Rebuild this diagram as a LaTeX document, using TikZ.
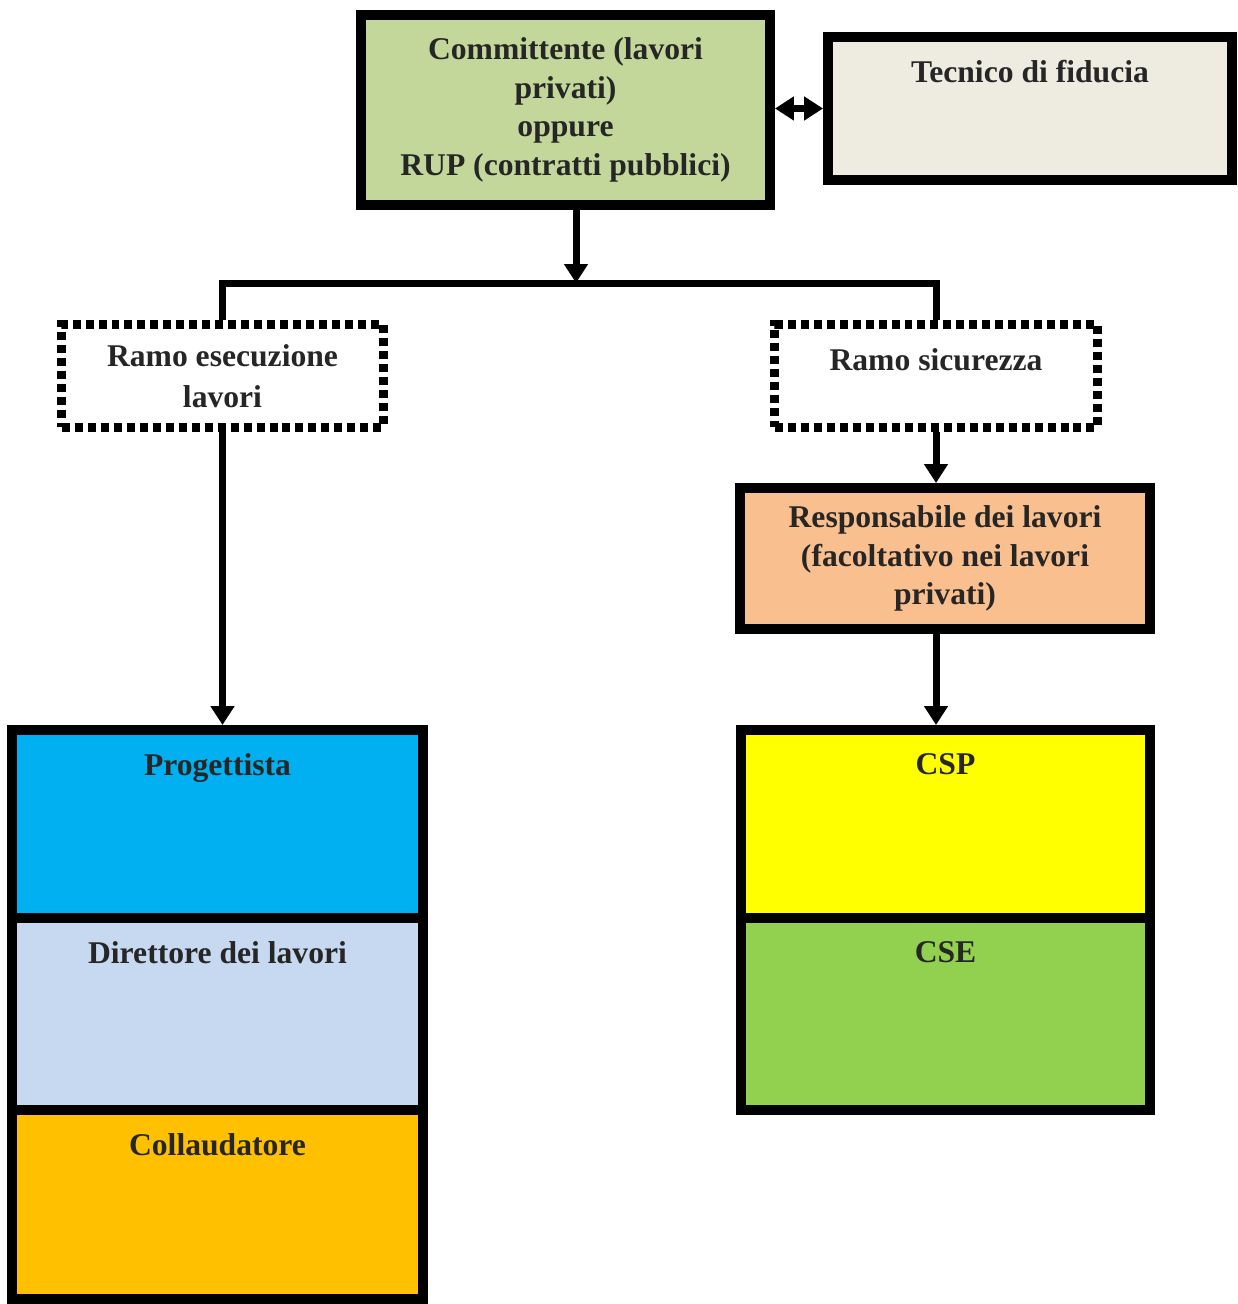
\documentclass[tikz,border=0pt]{standalone}
\usepackage{fontspec}
\setmainfont{Liberation Serif}
\usetikzlibrary{arrows.meta}
\definecolor{committente}{RGB}{196,215,155}
\definecolor{fiducia}{RGB}{238,236,225}
\definecolor{responsabile}{RGB}{250,191,143}
\definecolor{progettista}{RGB}{0,176,240}
\definecolor{direttore}{RGB}{198,217,241}
\definecolor{collaudatore}{RGB}{255,192,0}
\definecolor{csp}{RGB}{255,255,0}
\definecolor{cse}{RGB}{146,208,80}
\tikzset{> = {Triangle[length=0.38cm, width=0.46cm]}}
\tikzset{
  box/.style = {draw, line width=0.2cm, inner sep=0pt, align=center},
  branch/.style = {draw, line width=0.18cm, dash pattern=on 0.16cm off 0.1cm, align=center},
  tag/.style = {anchor=north, yshift=-0.45cm},
  link/.style = {line width=0.14cm}
}

\begin{document}
\begin{tikzpicture}[x=0.02cm, y=-0.02cm, font=\fontsize{18}{22}\selectfont\bfseries, text=black!85]
\useasboundingbox (0,0) rectangle (1237,1304);
% top row
\node[box, fill=committente, minimum width=8.18cm, minimum height=3.8cm] (comm) at (565.5,110) {Committente (lavori\\privati)\\oppure\\RUP (contratti pubblici)};
\node[box, fill=fiducia, minimum width=8.08cm, minimum height=2.86cm, label={[tag]north:Tecnico di fiducia}] (tec) at (1030,108.5) {};
% branches
\node[branch, minimum width=6.44cm, minimum height=2.06cm] (ramoA) at (222.5,376) {Ramo esecuzione\\[1pt]lavori};
\node[branch, minimum width=6.46cm, minimum height=2.06cm, label={[tag]north:Ramo sicurezza}] (ramoB) at (936,376) {};
\node[box, fill=responsabile, minimum width=8.2cm, minimum height=2.82cm] (resp) at (945,558.5) {Responsabile dei lavori\\(facoltativo nei lavori\\privati)};
% left stack
\node[box, fill=progettista, minimum width=8.22cm, minimum height=3.76cm, label={[tag]north:Progettista}] (prog) at (217.5,824) {};
\node[box, fill=direttore, minimum width=8.22cm, minimum height=3.84cm, label={[tag]north:Direttore dei lavori}] (dir) at (217.5,1014) {};
\node[box, fill=collaudatore, minimum width=8.22cm, minimum height=3.78cm, label={[tag]north:Collaudatore}] (coll) at (217.5,1204.5) {};
% right stack
\node[box, fill=csp, minimum width=8.18cm, minimum height=3.76cm, label={[tag]north:CSP}] (csp) at (945.5,824) {};
\node[box, fill=cse, minimum width=8.18cm, minimum height=3.84cm, label={[tag]north:CSE}] (cse) at (945.5,1014) {};
% connectors
\coordinate (split) at (576,283);
\draw[link, <->] (comm.east |- tec.west) -- (tec.west);
\draw[link, ->] (comm.south -| split) -- (split);
\draw[link] (ramoA.north) |- (split) -| (ramoB.north);
\draw[link, ->] (ramoA.south) -- (ramoA.south |- prog.north);
\draw[link, ->] (ramoB.south) -- (ramoB.south |- resp.north);
\draw[link, ->] (resp.south -| ramoB.south) -- (ramoB.south |- csp.north);
\end{tikzpicture}
\end{document}
